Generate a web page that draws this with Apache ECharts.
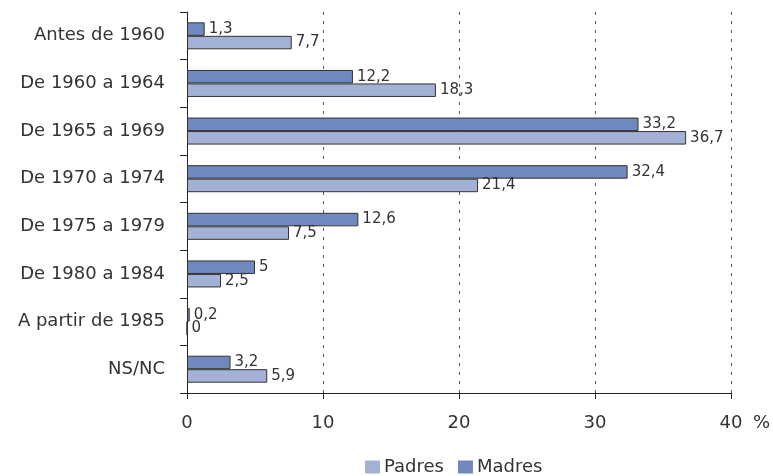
<!DOCTYPE html>
<html lang="es">
<head>
    <meta charset="utf-8">
    <title>Año de nacimiento de padres y madres</title>
    <style type="text/css">
        html, body { margin: 0; padding: 0; background: #fff; }
        #page { width: 773px; height: 476px; }
    </style>
</head>
<body>
<div id="page"></div>
<script src="https://cdn.jsdelivr.net/npm/echarts@6/dist/echarts.min.js"></script>
<script>
    // datos, de arriba hacia abajo
    var categories = ['Antes de 1960', 'De 1960 a 1964', 'De 1965 a 1969', 'De 1970 a 1974',
        'De 1975 a 1979', 'De 1980 a 1984', 'A partir de 1985', 'NS/NC'];
    var madres = [1.3, 12.2, 33.2, 32.4, 12.6, 5, 0.2, 3.2];
    var padres = [7.7, 18.3, 36.7, 21.4, 7.5, 2.5, 0, 5.9];
    var xTicks = [0, 10, 20, 30, 40];

    (function () {
        var font = '"DejaVu Sans", Verdana, sans-serif';
        var colorPadres = '#a3b1d6';
        var colorMadres = '#6f88bd';

        function fmt(p) {
            return String(p.value).replace('.', ',');
        }

        var barLabel = {
            show: true,
            position: 'right',
            distance: 4,
            color: '#333',
            fontFamily: font,
            fontSize: 15,
            formatter: fmt
        };

        var myChart = echarts.init(document.getElementById('page'));
        var option = {
            animation: false,
            textStyle: {fontFamily: font},
            grid: {left: 187, right: 42, top: 12, bottom: 83, containLabel: false},
            legend: {
                data: ['Padres', 'Madres'],
                left: 360,
                top: 453,
                icon: 'rect',
                itemWidth: 15,
                itemHeight: 13,
                itemGap: 14,
                itemStyle: {borderWidth: 0},
                textStyle: {color: '#333', fontSize: 18, fontFamily: font, padding: [0, 0, 0, -1]}
            },
            xAxis: {
                type: 'value',
                min: xTicks[0],
                max: xTicks[xTicks.length - 1],
                interval: 10,
                axisLine: {show: true, lineStyle: {color: '#222'}},
                axisTick: {show: true, length: 6, lineStyle: {color: '#222'}},
                axisLabel: {color: '#333', fontSize: 18, margin: 21, fontFamily: font},
                splitLine: {show: true, lineStyle: {color: '#555', type: [3, 6], width: 1}}
            },
            yAxis: {
                type: 'category',
                inverse: true,
                data: categories,
                axisLine: {show: true, lineStyle: {color: '#222'}},
                axisTick: {show: true, length: 7, lineStyle: {color: '#222'}},
                axisLabel: {color: '#333', fontSize: 18, margin: 22, fontFamily: font}
            },
            graphic: [{
                type: 'text',
                left: 753,
                top: 414,
                style: {text: '%', fill: '#333', font: '18px ' + font}
            }],
            series: [
                {
                    name: 'Madres',
                    type: 'bar',
                    data: madres,
                    barWidth: 13.5,
                    barGap: '0%',
                    itemStyle: {color: colorMadres, borderColor: '#333', borderWidth: 1},
                    label: barLabel
                },
                {
                    name: 'Padres',
                    type: 'bar',
                    data: padres,
                    barWidth: 13.5,
                    barGap: '0%',
                    itemStyle: {color: colorPadres, borderColor: '#333', borderWidth: 1},
                    label: barLabel
                }
            ]
        };
        myChart.setOption(option);
    })();
</script>
</body>
</html>
